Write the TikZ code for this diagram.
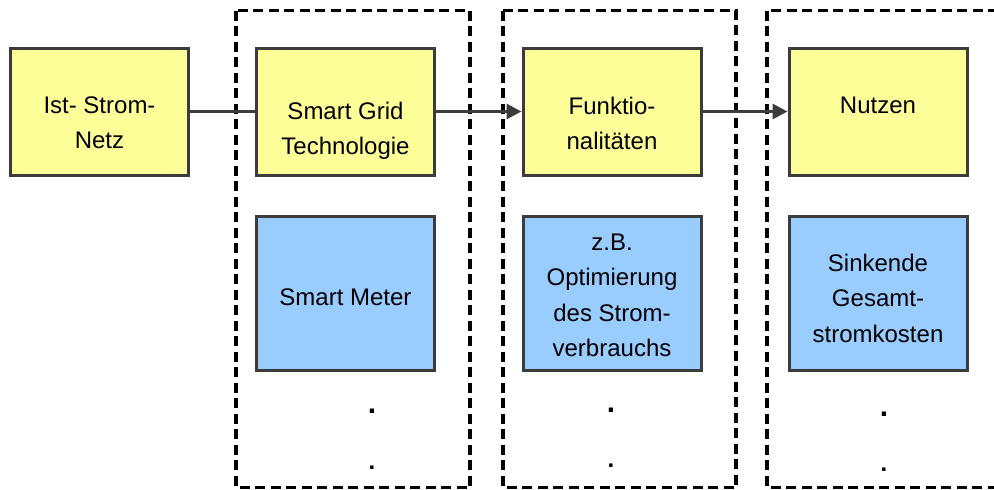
\documentclass[tikz,border=0pt]{standalone}
\usepackage{fontspec}
\setmainfont{Liberation Sans}
\usetikzlibrary{arrows.meta}
\definecolor{boxyellow}{HTML}{FFFF99}
\definecolor{boxblue}{HTML}{99CCFF}
\definecolor{boxline}{HTML}{3C3C3C}
\tikzset{
  ybox/.style={draw=boxline, line width=3pt, fill=boxyellow, minimum width=178pt, minimum height=127pt, inner sep=0pt},
  bbox/.style={ybox, fill=boxblue, minimum height=154pt},
  lbl/.style={anchor=north, inner sep=0pt, align=center, font=\fontsize{24}{35.5}\selectfont},
  dotlbl/.style={inner sep=0pt, font=\fontsize{24}{24}\selectfont\bfseries},
  frame/.style={line width=3.5pt, dash pattern=on 10pt off 5.5pt},
  link/.style={draw=boxline, line width=3pt},
}
\begin{document}
\begin{tikzpicture}[x=1pt, y=-1pt]
  \useasboundingbox (0,0) rectangle (994,490);
  \clip (0,0) rectangle (994,490);
  % gestrichelte Rahmen
  \foreach \a/\b in {236/470, 503/736, 767/1010} \draw[frame] (\a,10.5) rectangle (\b,487.5);
  % obere Reihe
  \foreach \n/\x in {ist/99.5, sg/345.5, fk/612, nu/878} \node[ybox] (\n) at (\x,111.5) {};
  % untere Reihe
  \foreach \n/\x in {sm/345.5, opt/612, kost/878} \node[bbox] (\n) at (\x,293) {};
  % Texte
  \node[lbl] (ist-t) at ([yshift=-50pt]ist.north) {Ist- Strom-\\Netz};
  \node[lbl] (sg-t) at ([yshift=-55pt]sg.north) {Smart Grid\\Technologie};
  \node[lbl] (fk-t) at ([yshift=-50pt]fk.north) {Funktio-\\nalitäten};
  \node[lbl] (nu-t) at ([yshift=-50pt]nu.north) {Nutzen};
  \node[lbl] (sm-t) at ([yshift=-74pt]sm.north) {Smart Meter};
  \node[lbl] (opt-t) at ([yshift=-19pt]opt.north) {z.B.\\Optimierung\\des Strom-\\verbrauchs};
  \node[lbl] (kost-t) at ([yshift=-39pt]kost.north) {Sinkende\\Gesamt-\\stromkosten};
  % Verbindungen
  \draw[link] (ist) -- (sg);
  \draw[link, -{Triangle[length=15pt,width=15pt]}] (sg) -- (fk);
  \draw[link, -{Triangle[length=15pt,width=15pt]}] (fk) -- (nu);
  % Punkte
  \foreach \n/\x/\ya/\yb in {sg/372/411/468, fk/611/410/466, nu/884/414/470} {
    \node[dotlbl] (\n-d1) at (\x,\ya) {\fontsize{30}{30}\selectfont .};
    \node[dotlbl] (\n-d2) at (\x,\yb) {.};
  }
\end{tikzpicture}
\end{document}
